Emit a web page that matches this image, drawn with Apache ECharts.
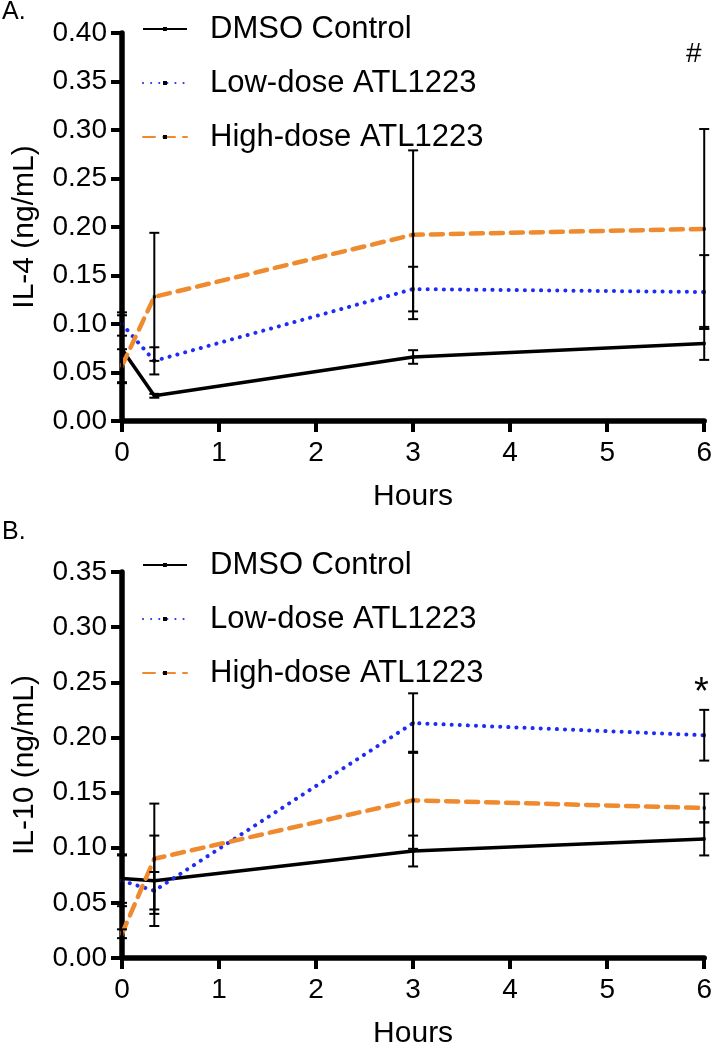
<!DOCTYPE html>
<html><head><meta charset="utf-8">
<script src="https://cdn.jsdelivr.net/npm/echarts@6/dist/echarts.min.js"></script>
<style>html,body{margin:0;padding:0;background:#fff}#c{width:715px;height:1050px}</style>
</head><body><div id="c"></div>
<script>
// ---- data ----
const hours = [0, 0.333, 3, 6];
const seriesNames = ['DMSO Control', 'Low-dose ATL1223', 'High-dose ATL1223'];
const il4Dmso = [0.074, 0.026, 0.066, 0.080];
const il4DmsoErr = [0.035, 0.002, 0.007, 0.017];
const il4Low = [0.100, 0.062, 0.136, 0.133];
const il4LowErr = [0.012, 0.014, 0.023, 0.038];
const il4High = [0.057, 0.128, 0.192, 0.198];
const il4HighErr = [0.017, 0.066, 0.087, 0.103];
const il10Dmso = [0.072, 0.070, 0.097, 0.108];
const il10DmsoErr = [0.022, 0.041, 0.014, 0.015];
const il10Low = [0.070, 0.061, 0.213, 0.202];
const il10LowErr = [0.023, 0.017, 0.027, 0.023];
const il10High = [0.022, 0.090, 0.143, 0.136];
const il10HighErr = [0.004, 0.050, 0.044, 0.013];
const il4Max = 0.40, il10Max = 0.35, yStep = 0.05, xMax = 6, xStep = 1;

// ---- styles ----
const FONT = 'Liberation Sans, Arial, sans-serif';
const colors = ['#000000', '#1f2cf5', '#ef8a2e'];
const lineStyles = [
  {color: colors[0], width: 3.5, type: 'solid'},
  {color: colors[1], width: 4, type: [0.1, 8], cap: 'round'},
  {color: colors[2], width: 4.5, type: [12, 8], cap: 'round'}
];

function pts(vals) { return hours.map((h, i) => [h, vals[i]]); }
function errs(vals, e) { return hours.map((h, i) => [h, vals[i] - e[i], vals[i] + e[i]]); }

function errRender(params, api) {
  const x = api.value(0), lo = api.value(1), hi = api.value(2);
  const a = api.coord([x, lo]), b = api.coord([x, hi]);
  const cw = 5;
  const st = {stroke: '#000', lineWidth: 2};
  return {type: 'group', children: [
    {type: 'line', shape: {x1: a[0], y1: a[1], x2: b[0], y2: b[1]}, style: st},
    {type: 'line', shape: {x1: a[0] - cw, y1: a[1], x2: a[0] + cw, y2: a[1]}, style: st},
    {type: 'line', shape: {x1: b[0] - cw, y1: b[1], x2: b[0] + cw, y2: b[1]}, style: st}
  ]};
}

function xAx(gi) {
  return {
    type: 'value', gridIndex: gi, min: 0, max: xMax, interval: xStep,
    name: 'Hours', nameLocation: 'middle', nameGap: 61,
    nameTextStyle: {fontSize: 30, color: '#000', fontFamily: FONT},
    axisLine: {onZero: false, lineStyle: {color: '#000', width: 5.5}},
    axisTick: {length: 11, lineStyle: {color: '#000', width: 4}},
    axisLabel: {fontSize: 28, color: '#000', fontFamily: FONT, margin: 18},
    splitLine: {show: false}
  };
}
function yAx(gi, max, name) {
  return {
    type: 'value', gridIndex: gi, min: 0, max: max, interval: yStep,
    name: name, nameLocation: 'middle', nameGap: 82, nameRotate: 90,
    nameTextStyle: {fontSize: 30, color: '#000', fontFamily: FONT},
    axisLine: {onZero: false, lineStyle: {color: '#000', width: 5.5}},
    axisTick: {length: 11, lineStyle: {color: '#000', width: 4}},
    axisLabel: {fontSize: 28, color: '#000', fontFamily: FONT, margin: 15,
      formatter: v => v.toFixed(2)},
    splitLine: {show: false}
  };
}
function lineSeries(gi, idx, vals) {
  return {
    type: 'line', name: seriesNames[idx], xAxisIndex: gi, yAxisIndex: gi,
    data: pts(vals), symbol: 'rect', symbolSize: 3, showSymbol: true,
    itemStyle: {color: '#000'}, lineStyle: lineStyles[idx], z: 3 + idx,
    animation: false
  };
}
function errSeries(gi, vals, e) {
  return {
    type: 'custom', xAxisIndex: gi, yAxisIndex: gi, data: errs(vals, e),
    renderItem: errRender, z: 10, clip: false, animation: false, silent: true,
    encode: {x: 0, y: [1, 2]}
  };
}
function legendAt(top) {
  return {
    data: seriesNames, orient: 'vertical', left: 142, top: top, padding: 0,
    itemWidth: 44, itemHeight: 5, itemGap: 22, selectedMode: false,
    itemStyle: {color: '#000', borderWidth: 0},
    textStyle: {fontSize: 31, color: '#000', fontFamily: FONT, lineHeight: 32, padding: [0, 0, 0, 18]}
  };
}

const chart = echarts.init(document.getElementById('c'), null, {renderer: 'canvas'});
chart.setOption({
  animation: false,
  backgroundColor: '#fff',
  textStyle: {fontFamily: FONT},
  grid: [
    {left: 122, right: 9, top: 33, height: 388},
    {left: 122, right: 9, top: 572, height: 387}
  ],
  xAxis: [xAx(0), xAx(1)],
  yAxis: [yAx(0, il4Max, 'IL-4 (ng/mL)'), yAx(1, il10Max, 'IL-10 (ng/mL)')],
  legend: [legendAt(13), legendAt(549)],
  series: [
    lineSeries(0, 0, il4Dmso), lineSeries(0, 1, il4Low), lineSeries(0, 2, il4High),
    errSeries(0, il4Dmso, il4DmsoErr), errSeries(0, il4Low, il4LowErr), errSeries(0, il4High, il4HighErr),
    lineSeries(1, 0, il10Dmso), lineSeries(1, 1, il10Low), lineSeries(1, 2, il10High),
    errSeries(1, il10Dmso, il10DmsoErr), errSeries(1, il10Low, il10LowErr), errSeries(1, il10High, il10HighErr)
  ],
  graphic: [
    {type: 'text', left: 2, top: 0, style: {text: 'A.', fontSize: 25, fill: '#000', fontFamily: FONT}},
    {type: 'text', left: 2, top: 520, style: {text: 'B.', fontSize: 25, fill: '#000', fontFamily: FONT}},
    {type: 'text', left: 686, top: 40, style: {text: '#', fontSize: 28, fill: '#000', fontFamily: FONT}},
    {type: 'text', left: 694, top: 675, style: {text: '*', fontSize: 38, fill: '#000', fontFamily: FONT}}
  ]
});
</script>
</body></html>
